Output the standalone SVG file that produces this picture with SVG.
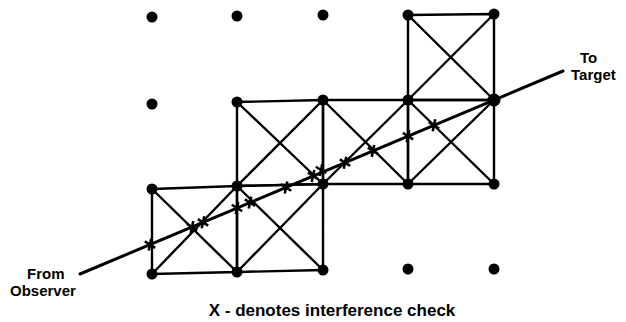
<svg xmlns="http://www.w3.org/2000/svg" width="626" height="322" viewBox="0 0 626 322">
<defs>
<style>
.grid{stroke:#000;stroke-width:2.4;fill:none;stroke-linecap:round}
.dot{fill:#000}
.path{stroke:#000;stroke-width:3;fill:none;stroke-linecap:round}
.xm{stroke:#000;stroke-width:2.6;fill:none}
.lbl{font-family:"Liberation Sans",Arial,sans-serif;font-weight:bold;font-size:15px;fill:#000}
.cap{font-size:17px}
</style>
<path id="xmark" class="xm" d="M-3.5,-5 L3.5,5 M3.5,-5 L-3.5,5"/>
</defs>
<g id="cells">
<g id="cellA"><path class="grid" d="M408,15 L494,14 L494,100 L408,100 Z M408,15 L494,100 M494,14 L408,100"/></g>
<g id="cellB"><path class="grid" d="M237,102 L323,100 L323,184 L237,186 Z M237,102 L323,184 M323,100 L237,186"/></g>
<g id="cellC"><path class="grid" d="M323,100 L408,100 L408,184 L323,184 Z M323,100 L408,184 M408,100 L323,184"/></g>
<g id="cellD"><path class="grid" d="M408,100 L494,100 L494,184 L408,184 Z M408,100 L494,184 M494,100 L408,184"/></g>
<g id="cellE"><path class="grid" d="M152,189 L237,186 L237,272 L152,274 Z M152,189 L237,272 M237,186 L152,274"/></g>
<g id="cellF"><path class="grid" d="M237,186 L323,184 L323,270 L237,272 Z M237,186 L323,270 M323,184 L237,272"/></g>
</g>
<g id="dots">
<circle class="dot" cx="152" cy="17" r="5.5"/><circle class="dot" cx="237" cy="16" r="5.5"/><circle class="dot" cx="323" cy="15" r="5.5"/><circle class="dot" cx="408" cy="15" r="5.5"/><circle class="dot" cx="494" cy="14" r="5.5"/>
<circle class="dot" cx="152" cy="104" r="5.5"/><circle class="dot" cx="237" cy="102" r="5.5"/><circle class="dot" cx="323" cy="100" r="5.5"/><circle class="dot" cx="408" cy="100" r="5.5"/><circle class="dot" cx="494" cy="100" r="6.5"/>
<circle class="dot" cx="152" cy="189" r="5.5"/><circle class="dot" cx="237" cy="186" r="5.5"/><circle class="dot" cx="323" cy="184" r="5.5"/><circle class="dot" cx="408" cy="184" r="5.5"/><circle class="dot" cx="494" cy="184" r="5.5"/>
<circle class="dot" cx="152" cy="274" r="5.5"/><circle class="dot" cx="237" cy="272" r="5.5"/><circle class="dot" cx="323" cy="270" r="5.5"/><circle class="dot" cx="408" cy="269" r="5.5"/><circle class="dot" cx="494" cy="269" r="5.5"/>
</g>
<g id="connectors">
<line class="path" x1="80" y1="274" x2="563" y2="71"/>
<g id="checks">
<use href="#xmark" transform="translate(150,244.6) rotate(-23)"/>
<use href="#xmark" transform="translate(192,227) rotate(-23)"/>
<use href="#xmark" transform="translate(203,222.3) rotate(-23)"/>
<use href="#xmark" transform="translate(237,208) rotate(-23)"/>
<use href="#xmark" transform="translate(250,202.6) rotate(-23)"/>
<use href="#xmark" transform="translate(286,187.5) rotate(-23)"/>
<use href="#xmark" transform="translate(313,176) rotate(-23)"/>
<use href="#xmark" transform="translate(321,170) rotate(-23)"/>
<use href="#xmark" transform="translate(345,162.7) rotate(-23)"/>
<use href="#xmark" transform="translate(373,150.9) rotate(-23)"/>
<use href="#xmark" transform="translate(408,136.2) rotate(-23)"/>
<use href="#xmark" transform="translate(434,125.3) rotate(-23)"/>
<use href="#xmark" transform="translate(494,100.2) rotate(-23)"/>
</g>
</g>
<g id="labels">
<text class="lbl" x="580" y="63">To</text>
<text class="lbl" x="571" y="80">Target</text>
<text class="lbl" x="27" y="279">From</text>
<text class="lbl" x="10" y="296">Observer</text>
<text class="lbl cap" x="332" y="316" text-anchor="middle">X - denotes interference check</text>
</g>
</svg>
